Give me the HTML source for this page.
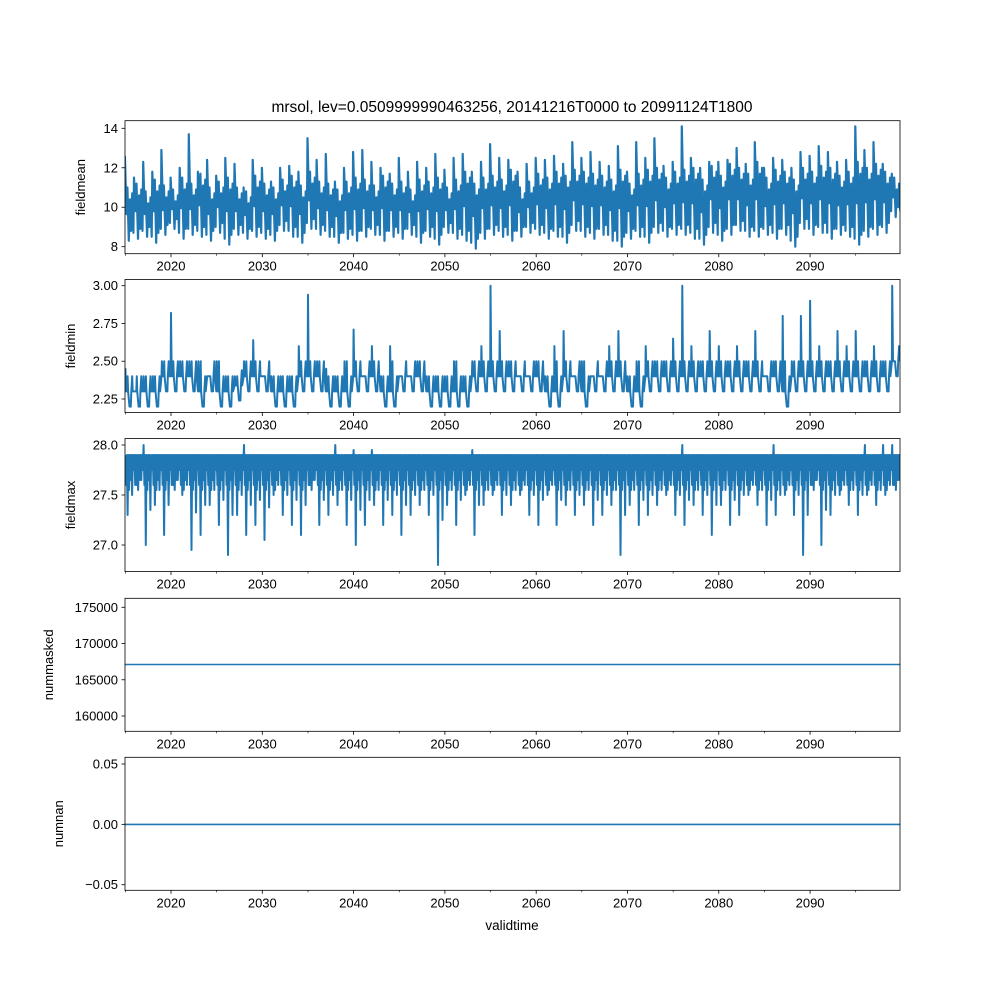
<!DOCTYPE html>
<html><head><meta charset="utf-8"><style>
body{margin:0;background:#fff}
svg{display:block;font-family:"Liberation Sans","DejaVu Sans",sans-serif}
</style></head><body>
<svg id="fig" width="1000" height="1000" viewBox="0 0 1000 1000">
<rect width="1000" height="1000" fill="#fff"/>
<text x="512" y="112" font-size="15.5" text-anchor="middle">mrsol, lev=0.0509999990463256, 20141216T0000 to 20991124T1800</text>
<g id="plots"></g>
<text x="512" y="930" font-size="13.5" text-anchor="middle">validtime</text>
</svg>
<script>
// data: one entry per year 2015..2099
const years = Array.from({length:85},(_, i)=>2015+i);
const meanHi = [12.6,11.5,12.3,11.8,12.9,11.5,12.0,13.7,11.8,12.4,11.6,12.5,12.2,11.0,12.4,12.0,11.3,12.0,12.1,11.8,13.5,12.4,12.7,11.3,12.0,12.8,12.9,12.3,12.0,11.7,12.5,11.8,12.3,12.0,12.7,11.9,12.5,12.7,11.8,12.3,13.2,12.5,12.4,11.8,12.2,12.5,12.4,12.6,12.2,13.3,12.5,12.8,12.3,12.1,13.1,11.8,13.3,12.5,13.5,12.1,12.3,14.1,12.5,12.0,12.3,12.3,12.4,13.0,12.2,13.3,12.0,12.5,12.4,12.0,12.8,12.6,13.1,12.8,12.3,12.4,14.1,12.9,13.3,12.2,11.7];
const meanHi2 = [11.0,11.2,10.8,11.4,11.1,10.9,11.5,11.2,11.7,11.0,11.3,11.5,11.0,10.8,11.6,11.2,11.0,11.4,11.6,11.1,11.8,11.3,11.2,10.9,11.3,11.5,11.4,11.1,11.6,11.2,11.3,10.9,11.4,11.3,11.5,11.0,11.4,11.8,11.2,11.5,11.6,11.4,11.9,11.0,11.3,11.7,11.5,11.8,11.6,11.9,11.8,11.7,11.6,11.4,11.9,11.2,11.7,11.9,12.0,11.5,11.8,11.9,12.0,11.4,12.1,11.6,12.2,12.0,11.7,12.3,11.5,11.9,11.8,11.4,12.0,11.8,12.1,12.0,11.6,11.8,12.3,12.0,12.2,11.8,11.5];
const meanLo = [8.3,8.4,8.5,8.2,8.6,8.9,8.4,8.6,8.5,8.3,8.7,8.1,8.6,8.4,8.5,8.4,8.3,8.8,8.5,8.2,8.9,8.6,8.5,8.2,8.4,8.3,8.5,8.6,8.3,8.5,8.4,8.6,8.2,8.5,8.1,8.7,8.4,8.3,7.9,8.4,8.6,8.5,8.3,8.5,8.7,8.6,8.4,8.5,8.2,8.8,8.5,8.4,8.6,8.3,8.0,8.4,8.5,8.2,8.7,8.5,8.6,8.6,8.4,8.1,8.7,8.3,8.6,8.8,8.5,8.5,8.6,8.4,8.6,8.0,8.9,8.6,8.7,8.4,8.6,8.5,8.1,8.5,8.6,8.7,9.5];
const minHi = [2.45,2.3,2.4,2.4,2.5,2.82,2.5,2.5,2.5,2.4,2.5,2.4,2.4,2.5,2.64,2.4,2.4,2.4,2.4,2.6,2.94,2.5,2.45,2.4,2.5,2.71,2.4,2.6,2.4,2.6,2.4,2.4,2.5,2.4,2.4,2.4,2.5,2.4,2.5,2.6,3.0,2.7,2.5,2.4,2.4,2.5,2.4,2.6,2.7,2.4,2.5,2.4,2.4,2.6,2.7,2.4,2.5,2.6,2.5,2.5,2.65,3.0,2.6,2.5,2.7,2.6,2.5,2.6,2.5,2.7,2.4,2.5,2.8,2.5,2.8,2.9,2.6,2.5,2.7,2.6,2.7,2.5,2.6,2.5,3.0];
const minLo = [2.2,2.2,2.2,2.2,2.3,2.3,2.3,2.3,2.2,2.3,2.2,2.2,2.24,2.3,2.3,2.3,2.2,2.2,2.2,2.3,2.3,2.3,2.2,2.2,2.2,2.3,2.3,2.3,2.2,2.2,2.3,2.3,2.3,2.2,2.2,2.2,2.2,2.2,2.3,2.3,2.3,2.3,2.3,2.3,2.3,2.3,2.2,2.2,2.3,2.3,2.2,2.3,2.3,2.3,2.3,2.2,2.2,2.3,2.3,2.3,2.3,2.3,2.3,2.3,2.3,2.3,2.3,2.3,2.3,2.3,2.3,2.3,2.2,2.3,2.3,2.3,2.3,2.3,2.3,2.3,2.3,2.3,2.3,2.3,2.4];
const maxHi = [27.9,27.9,28.0,27.9,27.9,27.9,27.9,27.9,27.9,27.9,27.9,27.9,27.9,28.0,27.9,27.9,27.9,27.9,27.9,27.9,27.9,27.9,27.9,28.0,27.9,27.95,27.9,27.95,27.9,27.9,27.9,27.9,27.9,27.9,27.9,27.9,27.9,27.9,27.95,27.9,27.9,27.9,27.9,27.9,27.9,27.9,27.9,27.9,27.9,27.9,27.9,27.9,27.9,27.9,27.9,27.9,27.9,27.9,27.9,27.9,27.9,28.0,27.9,27.9,27.9,27.9,27.9,27.9,27.9,27.9,27.9,28.0,27.9,27.9,27.9,27.9,27.9,27.9,27.9,27.9,27.9,28.0,27.9,28.0,28.0];
const maxLo = [27.3,27.6,27.0,27.4,27.1,27.6,27.5,26.95,27.1,27.4,27.2,26.9,27.3,27.1,27.2,27.05,27.5,27.3,27.2,27.1,27.6,27.2,27.3,27.4,27.2,27.0,27.2,27.4,27.2,27.3,27.1,27.3,27.4,27.3,26.8,27.4,27.2,27.5,27.1,27.4,27.5,27.3,27.4,27.5,27.3,27.2,27.5,27.2,27.4,27.3,27.4,27.2,27.3,27.4,26.9,27.4,27.2,27.3,27.4,27.5,27.3,27.2,27.4,27.3,27.1,27.4,27.2,27.3,27.5,27.4,27.2,27.3,27.5,27.3,26.9,27.6,27.0,27.3,27.5,27.4,27.3,27.5,27.4,27.5,27.6];
const masked = [167100];
const nans = [0];

const xTicks = [2020,2030,2040,2050,2060,2070,2080,2090];
const xMinor = [2015,2025,2035,2045,2055,2065,2075,2085,2095];
const xStart = 2014.96, xEnd = 2099.85;
const L = 125, R = 900;
const xs = y => L + (y - xStart) / (xEnd - xStart) * (R - L);
const BLUE = '#1f77b4';
const NS = 'http://www.w3.org/2000/svg';
const root = document.getElementById('plots');
function el(tag, attrs, parent){const e=document.createElementNS(NS,tag);for(const k in attrs)e.setAttribute(k,attrs[k]);(parent||root).appendChild(e);return e;}

const panels = [
 {name:'fieldmean', top:120.7, bot:253.7, v0:8, p0:246.7, v1:14, p1:128.3, ticks:[8,10,12,14], fmt:v=>String(v), lx:85},
 {name:'fieldmin', top:279.5, bot:412.5, v0:2.25, p0:399, v1:3.0, p1:285.7, ticks:[2.25,2.5,2.75,3.0], fmt:v=>v.toFixed(2), lx:75},
 {name:'fieldmax', top:438.5, bot:571.5, v0:27.0, p0:545, v1:28.0, p1:445, ticks:[27.0,27.5,28.0], fmt:v=>v.toFixed(1), lx:75},
 {name:'nummasked', top:598.3, bot:731.3, v0:160000, p0:716, v1:175000, p1:607.3, ticks:[160000,165000,170000,175000], fmt:v=>String(v), lx:53},
 {name:'numnan', top:757.3, bot:890.3, v0:-0.05, p0:884.7, v1:0.05, p1:764, ticks:[-0.05,0,0.05], fmt:v=>(v<0?'\u22120.05':v.toFixed(2)), lx:63},
];
panels.forEach(p=>{
 p.ys = v => p.p0 + (v - p.v0)/(p.v1 - p.v0)*(p.p1 - p.p0);
 const g = el('g',{});
 
 
 p.g = g;
 const clipId='clip-'+p.name;
 const cp=el('clipPath',{id:clipId},g); el('rect',{x:L,y:p.top,width:R-L,height:p.bot-p.top},cp);
 p.series = el('g',{'clip-path':'url(#'+clipId+')'},g);
 
 
 p.ticks.forEach(t=>{
  const y=p.ys(t);
  el('line',{x1:L-3.5,x2:L,y1:y,y2:y,stroke:'#000','stroke-width':0.8},g);
  const tx=el('text',{x:L-7,y:y+4.5,'font-size':13,'text-anchor':'end'},g);
  tx.textContent=p.fmt(t);
  
  
 });
 xTicks.forEach(t=>{
  const x=xs(t);
  el('line',{x1:x,x2:x,y1:p.bot,y2:p.bot+3.5,stroke:'#000','stroke-width':0.8},g);
  const tx=el('text',{x:x,y:p.bot+17,'font-size':13,'text-anchor':'middle'},g);
  tx.textContent=String(t);
  
  
 });
 xMinor.forEach(t=>{const x=xs(t);el('line',{x1:x,x2:x,y1:p.bot,y2:p.bot+2,stroke:'#000','stroke-width':0.6},g);});
 const lab=el('text',{x:0,y:0,'font-size':13,'text-anchor':'middle',transform:`translate(${p.lx},${(p.top+p.bot)/2}) rotate(-90)`},g);
 lab.textContent=p.name;
 
 
});
function poly(p, pts, w){
 const d=pts.map((q,i)=>(i?'L':'M')+q[0].toFixed(1)+' '+q[1].toFixed(1)).join('');
 const path=el('path',{d:d,fill:'none',stroke:BLUE,'stroke-width':w||2,'stroke-linejoin':'round'},p.series);
 
 
}
{const p=panels[0];const pts=[];years.forEach((y,i)=>{
 const lo=meanLo[i], nlo=meanLo[Math.min(i+1,84)];
 pts.push([xs(y-0.05),p.ys(meanHi[i])]);pts.push([xs(y+0.12),p.ys((lo+meanHi2[i])/2)]);
 pts.push([xs(y+0.22),p.ys(meanHi2[i])]);pts.push([xs(y+0.38),p.ys(lo)]);
 pts.push([xs(y+0.5),p.ys(meanHi2[i]-0.6)]);pts.push([xs(y+0.62),p.ys(lo+0.5)]);
 pts.push([xs(y+0.75),p.ys(meanHi2[i]-0.3)]);pts.push([xs(y+0.88),p.ys(nlo+0.3)]);
});poly(p,pts,2.2);}
{const p=panels[1];const pts=[];years.forEach((y,i)=>{
 const base=minLo[i]+0.1;
 pts.push([xs(y-0.04),p.ys(base)]);pts.push([xs(y),p.ys(minHi[i])]);pts.push([xs(y+0.08),p.ys(base)]);
 pts.push([xs(y+0.2),p.ys(base)]);pts.push([xs(y+0.25),p.ys(minHi[i]>2.45?2.5:2.4)]);pts.push([xs(y+0.3),p.ys(base)]);
 pts.push([xs(y+0.45),p.ys(minLo[i])]);pts.push([xs(y+0.6),p.ys(minLo[i])]);pts.push([xs(y+0.65),p.ys(base)]);
 pts.push([xs(y+0.75),p.ys(base+0.1)]);pts.push([xs(y+0.8),p.ys(base)]);
});poly(p,pts,2);}
{const p=panels[2];const pts=[];years.forEach((y,i)=>{
 const hi=maxHi[i]>27.92?27.9:maxHi[i];
 pts.push([xs(y),p.ys(maxHi[i])]);pts.push([xs(y+0.08),p.ys(27.6)]);pts.push([xs(y+0.16),p.ys(hi)]);
 pts.push([xs(y+0.24),p.ys(maxLo[i])]);pts.push([xs(y+0.32),p.ys(hi)]);pts.push([xs(y+0.4),p.ys(27.55)]);
 pts.push([xs(y+0.5),p.ys(hi)]);pts.push([xs(y+0.58),p.ys(27.65)]);pts.push([xs(y+0.66),p.ys(hi)]);
 pts.push([xs(y+0.74),p.ys((maxLo[i]+27.7)/2)]);pts.push([xs(y+0.82),p.ys(hi)]);pts.push([xs(y+0.9),p.ys(27.75)]);
});poly(p,pts,2);}
poly(panels[3],[[L,panels[3].ys(masked[0])],[R,panels[3].ys(masked[0])]],1.6);
poly(panels[4],[[L,panels[4].ys(nans[0])],[R,panels[4].ys(nans[0])]],1.6);
panels.forEach(p=>{
 const f=el('rect',{x:L,y:p.top,width:R-L,height:p.bot-p.top,fill:'none',stroke:'#000','stroke-width':0.8},p.g);
 
 
});
</script>
</body></html>
